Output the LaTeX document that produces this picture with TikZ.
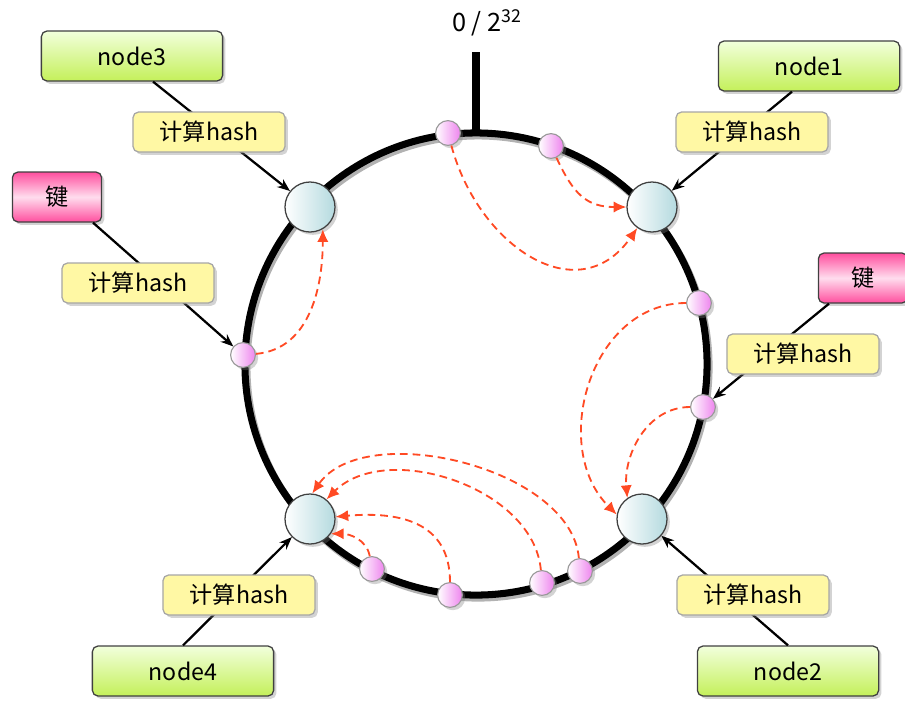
\documentclass[tikz,border=0pt]{standalone}
\usepackage{fontspec}
\setmainfont{Noto Sans CJK SC}
\usetikzlibrary{arrows.meta,shadows}

\definecolor{serverTop}{HTML}{F2FFDC}
\definecolor{serverBottom}{HTML}{C4F05A}
\definecolor{keyEdge}{HTML}{FF4E9E}
\definecolor{keyMid}{HTML}{FFDDEE}
\definecolor{hashFill}{HTML}{FFF8A4}
\definecolor{hubRight}{HTML}{B4DADF}
\definecolor{pointRight}{HTML}{EE84EE}
\definecolor{moveRed}{HTML}{FF4A24}

\begin{document}
\begin{tikzpicture}[x=0.025cm, y=-0.025cm,
    boxShadow/.style={drop shadow={shadow xshift=2pt, shadow yshift=-2pt, opacity=0.35}},
    serverStyle/.style={rectangle, rounded corners=4pt, draw=black!75, line width=0.9pt, minimum width=4.53cm, minimum height=1.25cm, top color=serverTop, bottom color=serverBottom, boxShadow, font=\fontsize{16.5pt}{19pt}\selectfont},
    keyStyle/.style={rectangle, rounded corners=4pt, draw=black!75, line width=0.9pt, minimum width=2.23cm, minimum height=1.25cm, top color=keyEdge, bottom color=keyEdge, middle color=keyMid, boxShadow, font=\fontsize{16.5pt}{19pt}\selectfont},
    hashStyle/.style={rectangle, rounded corners=4pt, draw=black!35, line width=0.9pt, minimum width=3.8cm, minimum height=1cm, fill=hashFill, boxShadow, font=\fontsize{16.5pt}{19pt}\selectfont},
    hubStyle/.style={circle, draw=black!75, line width=0.9pt, minimum size=1.25cm, inner sep=0pt, left color=white, right color=hubRight, boxShadow},
    pointStyle/.style={circle, draw=black!40, line width=0.8pt, minimum size=0.62cm, inner sep=0pt, left color=white, right color=pointRight, boxShadow},
    feedStyle/.style={-{Stealth[length=9pt, width=7pt]}, line width=1.6pt},
    moveStyle/.style={-{Latex[length=9pt, width=8pt]}, draw=moveRed, line width=1.3pt, dash pattern=on 5.5pt off 3.5pt}]
    \useasboundingbox (0,0) rectangle (905,700);

    % the ring and the zero mark
    \coordinate (ringCenter) at (476,364);
    \coordinate (zeroBase)   at (476,133);
    \coordinate (zeroTop)    at (476,52);
    \draw[line width=5pt, black!30] ([shift={(2,3)}]ringCenter) circle (5.775cm);
    \draw[line width=5pt] (ringCenter) circle (5.775cm);
    \draw[line width=5pt] (zeroBase) -- (zeroTop);
    \node (zeroLabel) at (487,23) {\fontsize{18pt}{21pt}\selectfont 0 / 2\textsuperscript{32}};

    % servers and keys
    \node[serverStyle] (node3) at (132,56)  {node3};
    \node[serverStyle] (node1) at (809,66)  {node1};
    \node[serverStyle] (node4) at (183,671) {node4};
    \node[serverStyle] (node2) at (788,671) {node2};
    \node[keyStyle]    (keyL)  at (57,197)  {键};
    \node[keyStyle]    (keyR)  at (863,278) {键};

    % servers on the ring
    \node[hubStyle] (hub3) at (310,207) {};
    \node[hubStyle] (hub1) at (652,207) {};
    \node[hubStyle] (hub4) at (310,519) {};
    \node[hubStyle] (hub2) at (642,519) {};

    % hashed keys on the ring
    \node[pointStyle] (pA) at (448,133) {};
    \node[pointStyle] (pB) at (551,146) {};
    \node[pointStyle] (pC) at (243,355) {};
    \node[pointStyle] (pD) at (699,303) {};
    \node[pointStyle] (pE) at (703,407) {};
    \node[pointStyle] (pF) at (372,569) {};
    \node[pointStyle] (pG) at (450,595) {};
    \node[pointStyle] (pH) at (542,583) {};
    \node[pointStyle] (pI) at (580,571) {};

    % each key goes clockwise to the next server
    \draw[moveStyle] (pA) to[out=-75, in=-125, looseness=1.3] (hub1);
    \draw[moveStyle] (pB) to[out=-65, in=180, looseness=1.2] (hub1);
    \draw[moveStyle] (pC) to[out=5, in=-90] (hub3.-60);
    \draw[moveStyle] (pD) to[out=180, in=135, looseness=1.1] (hub2.170);
    \draw[moveStyle] (pE) to[out=180, in=95] (hub2.125);
    \draw[moveStyle] (pI) to[out=95, in=55, looseness=0.85] (hub4.85);
    \draw[moveStyle] (pH) to[out=95, in=45, looseness=0.95] (hub4.50);
    \draw[moveStyle] (pG) to[out=90, in=5, looseness=1.2] (hub4.5);
    \draw[moveStyle] (pF) to[out=100, in=0] (hub4.-35);

    % hashing onto the ring
    \draw[feedStyle] ([shift={(21,0)}]node3.south) -- (hub3);
    \draw[feedStyle] ([shift={(-17,0)}]node1.south) -- (hub1);
    \draw[feedStyle] (node4.north) -- (hub4);
    \draw[feedStyle] (node2.north) -- (hub2);
    \draw[feedStyle] ([shift={(36,0)}]keyL.south) -- (pC);
    \draw[feedStyle] ([shift={(-34,0)}]keyR.south) -- (pE);

    \node[hashStyle] (hash3) at (209,132) {计算hash};
    \node[hashStyle] (hash1) at (752,132) {计算hash};
    \node[hashStyle] (hashL) at (138,283) {计算hash};
    \node[hashStyle] (hashR) at (803,354) {计算hash};
    \node[hashStyle] (hash4) at (239,595) {计算hash};
    \node[hashStyle] (hash2) at (753,595) {计算hash};
\end{tikzpicture}
\end{document}
